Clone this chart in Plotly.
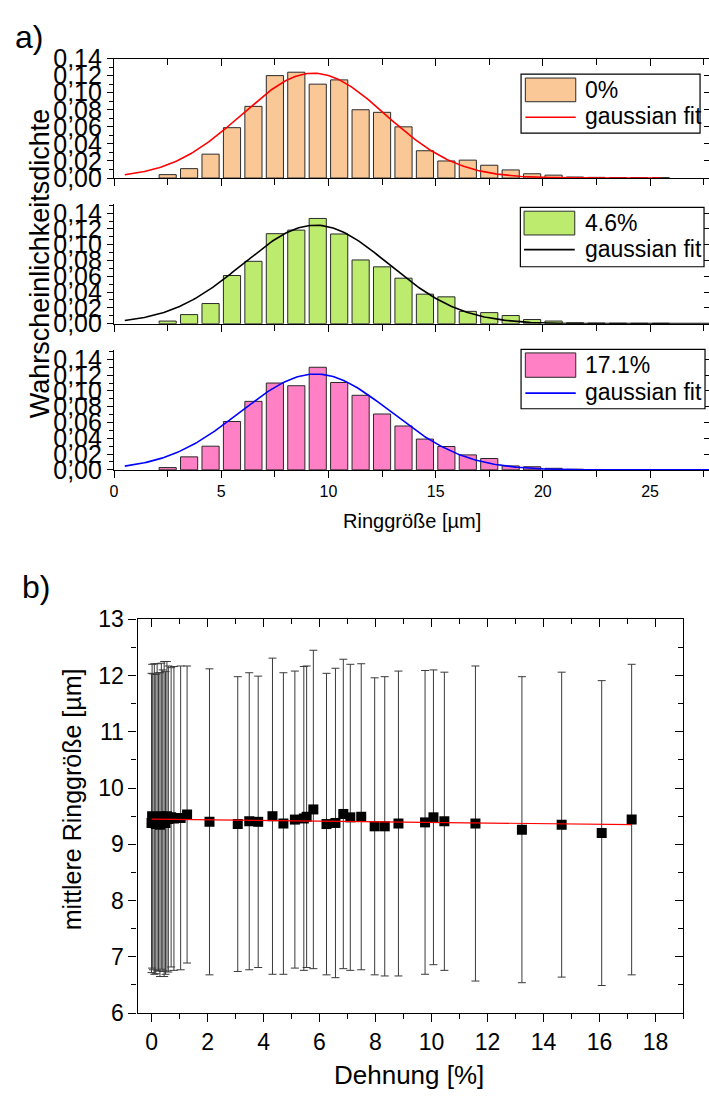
import numpy as np
import plotly.graph_objects as go

# ---------------- data: panel a (histograms) ----------------
bin_centers = [2.5, 3.5, 4.5, 5.5, 6.5, 7.5, 8.5, 9.5, 10.5, 11.5, 12.5, 13.5, 14.5,
               15.5, 16.5, 17.5, 18.5, 19.5, 20.5, 21.5, 22.5, 23.5, 24.5, 25.5]
dens_0 = [0.004, 0.011, 0.028, 0.059, 0.084, 0.120, 0.124, 0.110, 0.115, 0.080, 0.077, 0.060, 0.032,
          0.020, 0.021, 0.015, 0.0095, 0.005, 0.0034, 0.0012, 0.0008, 0.0006, 0.0005, 0.0005]
dens_46 = [0.0033, 0.0115, 0.0255, 0.061, 0.079, 0.114, 0.1185, 0.1333, 0.1136, 0.0807, 0.072, 0.0576, 0.0374,
           0.034, 0.0156, 0.014, 0.0103, 0.0053, 0.0033, 0.0012, 0.0008, 0.0006, 0.0005, 0.0005]
dens_171 = [0.0029, 0.0165, 0.030, 0.0613, 0.0868, 0.110, 0.1066, 0.130, 0.1107, 0.0945, 0.0708, 0.0556, 0.039,
            0.0296, 0.019, 0.0144, 0.005, 0.004, 0.002, 0.0008, 0.0005, 0.0004, 0.0003, 0.0003]
series_labels = ["0%", "4.6%", "17.1%"]

# gaussian fit parameters: (centre, sigma, amplitude, x start, x end)
fit_0 = (9.3, 3.35, 0.1228, 0.5, 25.5)
fit_46 = (9.4, 3.40, 0.1247, 0.5, 27.75)
fit_171 = (9.4, 3.50, 0.1214, 0.5, 27.75)

ya_tickvals = [0.00, 0.02, 0.04, 0.06, 0.08, 0.10, 0.12, 0.14]
ya_ticktext = ["0,00", "0,02", "0,04", "0,06", "0,08", "0,10", "0,12", "0,14"]
xa_tickvals = [0, 5, 10, 15, 20, 25]

# ---------------- data: panel b ----------------
strain = [0.0, 0.02, 0.05, 0.1, 0.15, 0.2, 0.25, 0.3, 0.35, 0.4, 0.45, 0.5, 0.55, 0.6, 0.7, 0.8,
          1.04, 1.27, 2.07, 3.08, 3.49, 3.81, 4.32, 4.71, 5.12, 5.44, 5.54, 5.78, 6.25, 6.57,
          6.85, 7.10, 7.49, 7.97, 8.33, 8.82, 9.77, 10.07, 10.46, 11.57, 13.23, 14.65, 16.08, 17.15]
mean_size = [9.38, 9.50, 9.40, 9.45, 9.36, 9.48, 9.40, 9.35, 9.50, 9.42, 9.45, 9.38, 9.50, 9.45, 9.48, 9.46,
             9.47, 9.53, 9.40, 9.36, 9.41, 9.40, 9.50, 9.37, 9.44, 9.46, 9.49, 9.62, 9.36, 9.38,
             9.54, 9.48, 9.49, 9.32, 9.32, 9.37, 9.39, 9.48, 9.41, 9.37, 9.26, 9.35, 9.20, 9.44]
std_size = [2.66, 2.70, 2.63, 2.76, 2.66, 2.73, 2.65, 2.70, 2.72, 2.68, 2.80, 2.69, 2.75, 2.72, 2.66, 2.70,
            2.70, 2.64, 2.72, 2.62, 2.64, 2.59, 2.81, 2.68, 2.64, 2.70, 2.68, 2.83, 2.68, 2.75,
            2.75, 2.72, 2.72, 2.64, 2.66, 2.71, 2.70, 2.62, 2.65, 2.80, 2.72, 2.71, 2.71, 2.76]
lin_fit = (9.447, -0.0057, 0.0, 17.15)   # intercept, slope, x start, x end
yb_tickvals = [6, 7, 8, 9, 10, 11, 12, 13]
xb_tickvals = [0, 2, 4, 6, 8, 10, 12, 14, 16, 18]

# ---------------- layout helpers ----------------
W, H = 709, 1108
def px(x):
    return x / W
def py(y):
    return 1 - y / H

FONT = "Arial, Liberation Sans, sans-serif"
bar_colors = ["#FAC896", "#BDEB6E", "#FF80C4"]
fit_colors = ["#FF0000", "#000000", "#0000FF"]
dens_all = [dens_0, dens_46, dens_171]
fits = [fit_0, fit_46, fit_171]

fig = go.Figure()

xa_names = ["x", "x2", "x3"]
ya_names = ["y", "y2", "y3"]
for i in range(3):
    fig.add_trace(go.Bar(x=bin_centers, y=dens_all[i], width=0.8,
                         marker=dict(color=bar_colors[i], line=dict(color="#2a2a2a", width=1)),
                         xaxis=xa_names[i], yaxis=ya_names[i], showlegend=False))
    c, s, a, x0, x1 = fits[i]
    xs = np.linspace(x0, x1, 300)
    ys = a * np.exp(-(xs - c) ** 2 / (2 * s ** 2))
    fig.add_trace(go.Scatter(x=xs, y=ys, mode="lines", line=dict(color=fit_colors[i], width=1.6),
                             xaxis=xa_names[i], yaxis=ya_names[i], showlegend=False))

# panel b
fig.add_trace(go.Scatter(x=strain, y=mean_size, mode="markers",
                         marker=dict(symbol="square", size=10, color="black"),
                         error_y=dict(type="data", array=std_size, visible=True,
                                      color="#3a3a3a", thickness=1, width=4),
                         xaxis="x5", yaxis="y7", showlegend=False))
b0, b1, lx0, lx1 = lin_fit
fig.add_trace(go.Scatter(x=[lx0, lx1], y=[b0 + b1 * lx0, b0 + b1 * lx1], mode="lines",
                         line=dict(color="#FF0000", width=1.2),
                         xaxis="x5", yaxis="y7", showlegend=False))

for xa, ya in [("x4", "y"), ("x", "y4"), ("x2", "y5"), ("x3", "y6"), ("x6", "y7"), ("x5", "y8")]:
    fig.add_trace(go.Scatter(x=[None], y=[None], xaxis=xa, yaxis=ya, showlegend=False, hoverinfo="skip"))

xa_dom = [px(110.7), 1.0]
xa_range = [0, 27.75]
ya_doms = [[py(168.3), py(45.7)], [py(317.7), py(195)], [py(467.7), py(345)]]
ya_ranges = [[0, 0.14], [0, 0.1515], [0, 0.1515]]

common_line = dict(showline=True, linecolor="black", linewidth=1.3, showgrid=False, zeroline=False)

lay = dict(width=W, height=H, margin=dict(l=0, r=0, t=0, b=0),
           paper_bgcolor="white", plot_bgcolor="rgba(0,0,0,0)",
           font=dict(family=FONT, color="black"), showlegend=False, bargap=0.2)

for i in range(3):
    xk = "xaxis" if i == 0 else "xaxis%d" % (i + 1)
    yk = "yaxis" if i == 0 else "yaxis%d" % (i + 1)
    lay[xk] = dict(domain=xa_dom, range=xa_range, anchor=ya_names[i], **common_line,
                   tickmode="array", tickvals=xa_tickvals, ticks="outside", ticklen=7,
                   tickwidth=1.2, tickcolor="black",
                   minor=dict(tickmode="linear", tick0=2.5, dtick=5, ticks="outside", ticklen=6,
                              tickcolor="black", tickwidth=1.2),
                   showticklabels=(i == 2), tickfont=dict(size=16, family=FONT))
    lay[yk] = dict(domain=ya_doms[i], range=ya_ranges[i], anchor=xa_names[i], **common_line,
                   tickmode="array", tickvals=ya_tickvals, ticktext=ya_ticktext,
                   ticks="outside", ticklen=6, tickwidth=1.2, tickcolor="black",
                   minor=dict(tickmode="linear", tick0=0, dtick=0.01, ticks="outside", ticklen=4,
                              tickcolor="black", tickwidth=1.1),
                   tickfont=dict(size=25, family=FONT))

lay["xaxis4"] = dict(overlaying="x", side="top", anchor="y", range=xa_range, **common_line,
                     tickmode="array", tickvals=xa_tickvals, ticks="inside", ticklen=7,
                     tickcolor="black", tickwidth=1.2,
                     minor=dict(tickmode="linear", tick0=2.5, dtick=5, ticks="inside", ticklen=6,
                                tickcolor="black", tickwidth=1.2),
                     showticklabels=False)
for k, ov, dom_i in [("yaxis4", "y", 0), ("yaxis5", "y2", 1), ("yaxis6", "y3", 2)]:
    lay[k] = dict(overlaying=ov, side="right", anchor=xa_names[dom_i], range=ya_ranges[dom_i],
                  **common_line, tickmode="array", tickvals=ya_tickvals, ticks="inside", ticklen=5,
                  tickcolor="black", tickwidth=1.2, showticklabels=False)

xb_dom = [px(134.3), px(683.3)]
xb_range = [-0.5, 19.0]
yb_dom = [py(1025), py(621)]
yb_range = [6, 13]
lay["xaxis5"] = dict(domain=xb_dom, range=xb_range, anchor="y7", **common_line,
                     tickmode="array", tickvals=xb_tickvals, ticks="outside", ticklen=8,
                     tickwidth=1.2, tickcolor="black",
                     minor=dict(tickmode="linear", tick0=1, dtick=2, ticks="outside", ticklen=5,
                                tickcolor="black", tickwidth=1.2),
                     tickfont=dict(size=23, family=FONT))
lay["yaxis7"] = dict(domain=yb_dom, range=yb_range, anchor="x5", **common_line,
                     tickmode="array", tickvals=yb_tickvals, ticks="outside", ticklen=8,
                     tickwidth=1.2, tickcolor="black",
                     minor=dict(tickmode="linear", tick0=6.5, dtick=1, ticks="outside", ticklen=5,
                                tickcolor="black", tickwidth=1.2),
                     tickfont=dict(size=23, family=FONT))
lay["xaxis6"] = dict(overlaying="x5", side="top", anchor="y7", range=xb_range, **common_line,
                     tickmode="array", tickvals=xb_tickvals, ticks="inside", ticklen=8,
                     tickcolor="black", tickwidth=1.2,
                     minor=dict(tickmode="linear", tick0=1, dtick=2, ticks="inside", ticklen=5,
                                tickcolor="black", tickwidth=1.2),
                     showticklabels=False)
lay["yaxis8"] = dict(overlaying="y7", side="right", anchor="x5", range=yb_range, **common_line,
                     tickmode="array", tickvals=yb_tickvals, ticks="inside", ticklen=8,
                     tickcolor="black", tickwidth=1.2,
                     minor=dict(tickmode="linear", tick0=6.5, dtick=1, ticks="inside", ticklen=5,
                                tickcolor="black", tickwidth=1.2),
                     showticklabels=False)

fig.update_layout(**lay)

def ann(text, x, y, size, angle=0, xanchor="center", yanchor="middle"):
    fig.add_annotation(text=text, x=px(x), y=py(y), xref="paper", yref="paper",
                       showarrow=False, textangle=angle, xanchor=xanchor, yanchor=yanchor,
                       font=dict(size=size, family=FONT, color="black"))

ann("a)", 9, 24, 32, xanchor="left")
ann("b)", 16, 588, 32, xanchor="left")
ann("Wahrscheinlichkeitsdichte", 36, 256, 27, angle=-90)
ann("Ringgröße [µm]", 410, 520, 20)
ann("mittlere Ringgröße [µm]", 68, 806, 25, angle=-90)
ann("Dehnung [%]", 407, 1088, 26)

legend_boxes = [(520, 61.7, 700, 122.3), (519.3, 198.3, 704, 259.3), (520, 344, 705, 405)]
swatches = [(524.3, 65.7, 575, 90), (523, 202.3, 574, 226.7), (524.3, 347.7, 575, 372.7)]
line_y = [106, 241.7, 389]
for i in range(3):
    bx0, by0, bx1, by1 = legend_boxes[i]
    fig.add_shape(type="rect", xref="paper", yref="paper", x0=px(bx0), x1=px(bx1), y0=py(by1), y1=py(by0),
                  line=dict(color="black", width=1.2), fillcolor="white", layer="above")
    sx0, sy0, sx1, sy1 = swatches[i]
    fig.add_shape(type="rect", xref="paper", yref="paper", x0=px(sx0), x1=px(sx1), y0=py(sy1), y1=py(sy0),
                  line=dict(color="#2a2a2a", width=1), fillcolor=bar_colors[i], layer="above")
    fig.add_shape(type="line", xref="paper", yref="paper", x0=px(sx0), x1=px(sx1), y0=py(line_y[i]),
                  y1=py(line_y[i]), line=dict(color=fit_colors[i], width=1.6), layer="above")
    ann(series_labels[i], 582, (sy0 + sy1) / 2, 23, xanchor="left")
    ann("gaussian fit", 582, line_y[i] - 1, 23, xanchor="left")

fig.write_html("out.html", config={"displayModeBar": False},
               post_script="document.body.style.margin='0';document.body.style.overflow='hidden';")
